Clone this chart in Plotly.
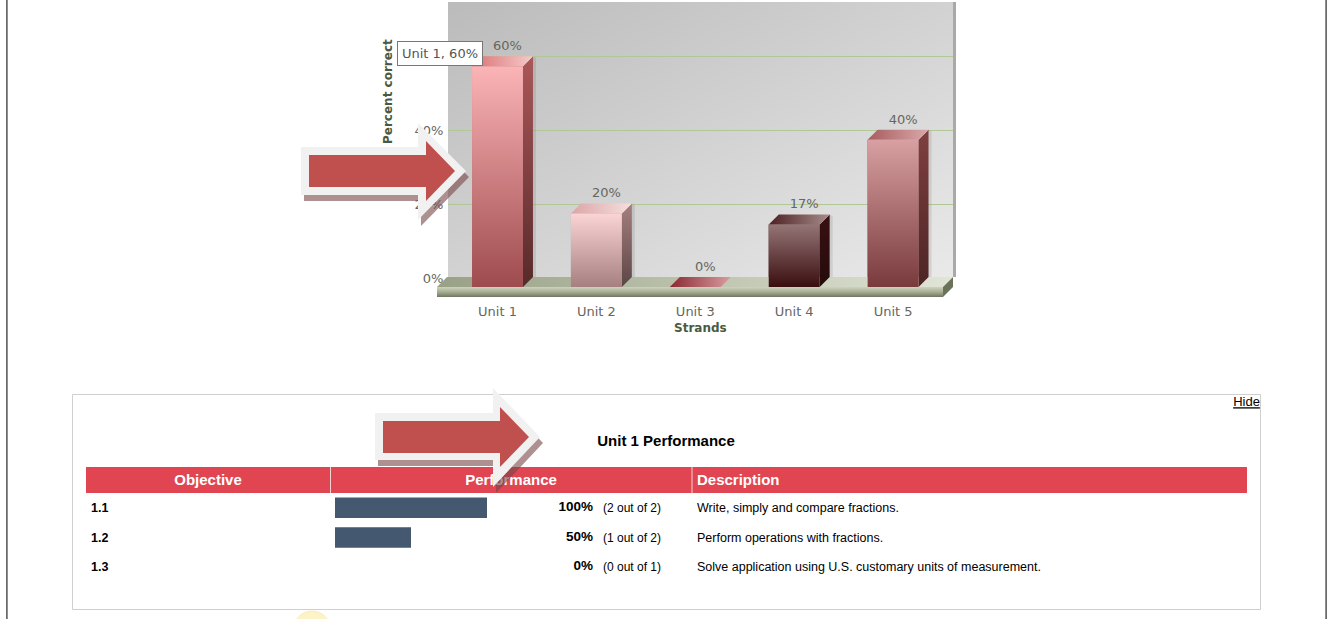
import base64
import plotly.graph_objects as go

# ---------- data ----------
units = ["Unit 1", "Unit 2", "Unit 3", "Unit 4", "Unit 5"]
percent_correct = [60, 20, 0, 17, 40]
y_ticks = [0, 20, 40, 60]
objectives = ["1.1", "1.2", "1.3"]
objective_percent = [100, 50, 0]
objective_correct = [2, 1, 0]
objective_total = [2, 2, 1]
descriptions = [
    "Write, simply and compare fractions.",
    "Perform operations with fractions.",
    "Solve application using U.S. customary units of measurement.",
]
table_headers = ["Objective", "Performance", "Description"]

# ---------- per-bar styling ----------
front_colors = [("#fbb4b6", "#9e4b4e"), ("#fbd4d5", "#a67f80"), ("#c06a70", "#8a3a40"),
                ("#957577", "#3a0e0f"), ("#d8a0a2", "#793a3c")]
side_colors = [("#ab5758", "#572a2a"), ("#a67f7f", "#5c4646"), ("#803035", "#602025"),
               ("#3a1012", "#250b0b"), ("#803f40", "#4c2525")]
top_colors = [("#da7275", "#f7c9c9"), ("#dba6a7", "#f7dede"), ("#8a2a30", "#d89ca0"),
              ("#4e2022", "#a68c8c"), ("#a85c5e", "#d9a9aa")]

W, H = 1337, 619
def px(x): return x / W
def py(y): return 1 - y / H

# chart geometry (pixels)
STEP = 98.9           # px per category
PPU = 3.68            # px per percent
BAR_W = 0.515
X_FIRST = 497.5       # pixel of first category
Y_ZERO = 287
DEPTH = 10
dx = DEPTH / STEP
dy = DEPTH / PPU
PLOT_L, PLOT_R, PLOT_T, PLOT_B = 437, 953, 2, 297
xr = [(PLOT_L - X_FIRST) / STEP, (PLOT_R - X_FIRST) / STEP]
yr = [(Y_ZERO - PLOT_B) / PPU, (Y_ZERO - PLOT_T) / PPU]
WALL_L, WALL_R, WALL_T, WALL_B = 448, 953, 2, 277
GRID_BOTTOM, GRID_TOP, GRID_PPU = 278.5, 2.5, 3.7   # puts gridlines on whole pixel rows
FLOOR_L = (437 - X_FIRST) / STEP
FLOOR_R = (943 - X_FIRST) / STEP

def grad(kind, c0, c1):
    return dict(type=kind, colorscale=[[0, c0], [1, c1]])

def poly(xs, ys, fill=None, gradient=None, name=""):
    kw = dict(fillgradient=gradient) if gradient else dict(fillcolor=fill)
    return go.Scatter(x=xs + xs[:1], y=ys + ys[:1], mode="lines", fill="toself",
                      line=dict(width=0), hoverinfo="skip", showlegend=False,
                      xaxis="x2", yaxis="y2", name=name, **kw)

fig = go.Figure()

# back-wall axes: holds the native y ticks and gridlines
fig.add_trace(go.Scatter(x=[0], y=[0], mode="none", xaxis="x", yaxis="y",
                         showlegend=False, hoverinfo="skip"))

# floor
fig.add_trace(poly([FLOOR_L, FLOOR_L + dx, FLOOR_R + dx, FLOOR_R],
                   [0, dy, dy, 0], gradient=grad("horizontal", "#98a085", "#e0e5d5")))
fig.add_trace(poly([FLOOR_L, FLOOR_R, FLOOR_R, FLOOR_L],
                   [0, 0, -dy, -dy],
                   gradient=dict(type="vertical",
                                 colorscale=[[0, "#6f7562"], [0.5, "#a6ad92"], [1, "#cdd4bd"]])))
fig.add_trace(poly([FLOOR_R, FLOOR_R + dx, FLOOR_R + dx, FLOOR_R],
                   [0, dy, 0, -dy], fill="#6a7259"))

# 3D bar shadows, sides and tops, driven by the values
for i, v in enumerate(percent_correct):
    l, r = i - BAR_W / 2, i + BAR_W / 2
    if v > 0:
        s = 3 / STEP
        fig.add_trace(poly([r + dx, r + dx + s, r + dx + s, r + dx],
                           [v + dy, v + dy - 0.5, dy, dy], fill="rgba(90,90,90,0.15)"))
        fig.add_trace(poly([r, r + dx, r + dx, r], [0, dy, v + dy, v],
                           gradient=grad("vertical", side_colors[i][1], side_colors[i][0])))
    fig.add_trace(poly([l, l + dx, r + dx, r], [v, v + dy, v + dy, v],
                       gradient=grad("horizontal", top_colors[i][0], top_colors[i][1])))

# front faces
fig.add_trace(go.Bar(x=list(range(len(units))), y=percent_correct, width=BAR_W,
                     marker=dict(color=[c[1] for c in front_colors], line=dict(width=0)),
                     xaxis="x2", yaxis="y2", showlegend=False, hoverinfo="skip"))
for i, v in enumerate(percent_correct):
    if v > 0:
        l, r = i - BAR_W / 2, i + BAR_W / 2
        fig.add_trace(poly([l, r, r, l], [0, 0, v, v],
                           gradient=grad("vertical", front_colors[i][1], front_colors[i][0])))

# value labels
fig.add_trace(go.Scatter(x=[i + dx for i in range(len(units))],
                         y=[v + dy + 3 / PPU for v in percent_correct],
                         text=[f"{v}%" for v in percent_correct], mode="text",
                         textposition="top center",
                         textfont=dict(family="DejaVu Sans", size=13, color="#666660"),
                         xaxis="x2", yaxis="y2", showlegend=False, hoverinfo="skip"))

# ---------- page-pixel axes for the table texts ----------
def page_text(xs, ys, texts, pos, size, color="#000000", bold=False, family="Liberation Sans"):
    fig.add_trace(go.Scatter(x=xs, y=ys, text=texts, mode="text", textposition=pos,
                             textfont=dict(family=family, size=size, color=color,
                                           weight="bold" if bold else "normal"),
                             xaxis="x3", yaxis="y3", showlegend=False, hoverinfo="skip"))

ROWS_Y = [509, 538.5, 568]
page_text([666], [442], ["Unit 1 Performance"], "middle center", 15, bold=True)
page_text([1246.5], [403], ["<u>Hide</u>"], "middle center", 13)
page_text([208, 511], [481, 481], table_headers[:2], "middle center", 15, "#ffffff", True)
page_text([697], [481], table_headers[2:], "middle right", 15, "#ffffff", True)
page_text([91] * 3, ROWS_Y, objectives, "middle right", 12.5, bold=True)
page_text([593] * 3, [y - 1 for y in ROWS_Y], [f"{p}%" for p in objective_percent],
          "middle left", 13.5, bold=True)
page_text([603] * 3, ROWS_Y,
          [f"({c} out of {t})" for c, t in zip(objective_correct, objective_total)],
          "middle right", 12)
page_text([697] * 3, ROWS_Y, descriptions, "middle right", 12.5)

# performance bars
fig.add_trace(go.Bar(y=list(range(len(objectives))), x=objective_percent, orientation="h",
                     width=0.69, marker=dict(color="#44596f", line=dict(width=0)),
                     xaxis="x4", yaxis="y4", showlegend=False, hoverinfo="skip"))

# ---------- decoration ----------
def path(points):
    return "M " + " L ".join(f"{px(x):.5f},{py(y):.5f}" for x, y in points) + " Z"

def rect(x0, y0, x1, y1, fill=None, line=None, lw=0, layer="below"):
    return dict(type="rect", xref="paper", yref="paper", x0=px(x0), x1=px(x1), y0=py(y0), y1=py(y1),
                fillcolor=fill or "rgba(0,0,0,0)", line=dict(color=line or "rgba(0,0,0,0)", width=lw),
                layer=layer)

def arrow(outer, inner, shift):
    out = [dict(type="path", xref="paper", yref="paper", layer="above",
                path=path([(x + shift[0], y + shift[1]) for x, y in outer]),
                fillcolor="rgba(120,70,70,0.6)", line=dict(width=0))]
    out.append(dict(type="path", xref="paper", yref="paper", layer="above", path=path(outer),
                    fillcolor="#f1f1f1", line=dict(width=0)))
    out.append(dict(type="path", xref="paper", yref="paper", layer="above", path=path(inner),
                    fillcolor="#c0504d", line=dict(width=0)))
    return out

arrow1_outer = [(301, 147), (418, 147), (418, 123), (466, 171), (418, 220), (418, 195), (301, 195)]
arrow1_inner = [(309, 155), (426, 155), (426, 141), (455, 171), (426, 201), (426, 187), (309, 187)]
arrow2_outer = [(375, 413), (493, 413), (493, 388), (540, 437), (493, 487), (493, 460), (375, 460)]
arrow2_inner = [(383, 421), (500, 421), (500, 407), (529, 437), (500, 467), (500, 453), (383, 453)]

shapes = [
    rect(6.2, 0, 7.6, 619, fill="#444444"),
    rect(1325.4, 0, 1326.8, 619, fill="#444444"),
    dict(type="circle", xref="paper", yref="paper", x0=px(293), x1=px(331), y0=py(650), y1=py(611),
         fillcolor="#fdf3c8", line=dict(color="#fbeeb5", width=1), layer="below"),
    rect(72.5, 394.5, 1260.5, 609.5, line="#cfcfcf", lw=1),
    rect(86, 467, 1247, 493, fill="#e04551"),
    rect(330, 467, 331, 493, fill="#f6d4d6"),
    rect(691.5, 467, 692.5, 493, fill="#f6d4d6"),
    rect(953, WALL_T, 956, WALL_B, fill="#a9a9a9"),
]
shapes += arrow(arrow1_outer, arrow1_inner, (3, 6))
shapes += arrow(arrow2_outer, arrow2_inner, (3, 6))

svg = ('<svg xmlns="http://www.w3.org/2000/svg" width="505" height="275" preserveAspectRatio="none">'
       '<defs><linearGradient id="g" x1="0" y1="0" x2="1" y2="1">'
       '<stop offset="0" stop-color="#bbbbbb"/><stop offset="1" stop-color="#e9e9e9"/>'
       '</linearGradient></defs><rect width="505" height="275" fill="url(#g)"/></svg>')
wall_src = "data:image/svg+xml;base64," + base64.b64encode(svg.encode()).decode()

annotations = [
    dict(x=px(388), y=py(92), xref="paper", yref="paper", text="<b>Percent correct</b>", textangle=-90,
         xanchor="center", yanchor="middle",
         showarrow=False, font=dict(family="DejaVu Sans", size=12, color="#4a5a40")),
    dict(x=px(700), y=py(328), xref="paper", yref="paper", text="<b>Strands</b>",
         xanchor="center", yanchor="middle",
         showarrow=False, font=dict(family="DejaVu Sans", size=12, color="#4a5a40")),
    dict(x=px(440), y=py(53.5), xref="paper", yref="paper", text="Unit 1, 60%", showarrow=False,
         xanchor="center", yanchor="middle",
         font=dict(family="DejaVu Sans", size=13, color="#555555"),
         bgcolor="#ffffff", bordercolor="#777777", borderwidth=1, borderpad=3, width=78, height=17),
]

fig.update_layout(
    template="none",
    width=W, height=H, margin=dict(l=0, r=0, t=0, b=0, pad=0), autosize=False,
    paper_bgcolor="#ffffff", plot_bgcolor="rgba(0,0,0,0)", showlegend=False,
    hovermode=False, barmode="overlay", shapes=shapes, annotations=annotations,
    images=[dict(source=wall_src, xref="paper", yref="paper", x=px(WALL_L), y=py(WALL_T),
                 sizex=px(WALL_R - WALL_L), sizey=(WALL_B - WALL_T) / H,
                 sizing="stretch", xanchor="left", yanchor="top", layer="below")],
    # back wall with the percent scale
    xaxis=dict(domain=[px(WALL_L), px(WALL_R)], range=[0, 1], visible=False, fixedrange=True, automargin=False),
    yaxis=dict(domain=[py(GRID_BOTTOM), py(GRID_TOP)], range=[0, (GRID_BOTTOM - GRID_TOP) / GRID_PPU],
               automargin=False, tickmode="array", tickvals=y_ticks, ticktext=[f"{t}%" for t in y_ticks],
               showgrid=True, gridcolor="#b0c896", gridwidth=1, zeroline=False,
               showline=False, ticks="outside", ticklen=1, tickcolor="rgba(0,0,0,0)",
               tickfont=dict(family="DejaVu Sans", size=13, color="#666660"), fixedrange=True),
    # bars
    xaxis2=dict(domain=[px(PLOT_L), px(PLOT_R)], range=xr, anchor="y2", automargin=False,
                tickmode="array", tickvals=list(range(len(units))), ticktext=units,
                showgrid=False, zeroline=False, showline=False, ticks="outside", ticklen=2,
                tickcolor="rgba(0,0,0,0)",
                tickfont=dict(family="DejaVu Sans", size=13, color="#666660"), fixedrange=True),
    yaxis2=dict(domain=[py(PLOT_B), py(PLOT_T)], range=yr, anchor="x2", visible=False, fixedrange=True, automargin=False),
    # whole page in pixels, for table text
    xaxis3=dict(domain=[0, 1], range=[0, W], anchor="y3", visible=False, fixedrange=True, automargin=False),
    yaxis3=dict(domain=[0, 1], range=[H, 0], anchor="x3", visible=False, fixedrange=True, automargin=False),
    # performance bars
    xaxis4=dict(domain=[px(335), px(487)], range=[0, 100], anchor="y4", visible=False, fixedrange=True, automargin=False),
    yaxis4=dict(domain=[py(582), py(493)], range=[2.5, -0.5], anchor="x4", visible=False, fixedrange=True, automargin=False),
)

fig.write_html("out.html", config=dict(displayModeBar=False, responsive=False),
               default_width=f"{W}px", default_height=f"{H}px",
               post_script="document.body.style.margin='0';document.body.style.overflow='hidden';")
